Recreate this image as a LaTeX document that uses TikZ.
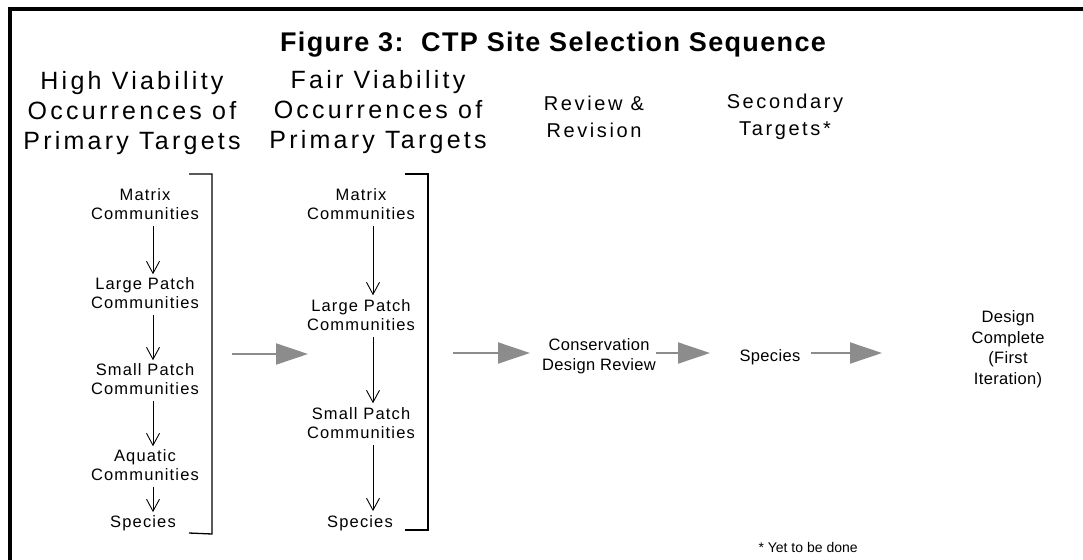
\documentclass[tikz,border=0pt]{standalone}
\usepackage{fontspec}
\setmainfont{Liberation Sans}
\newfontfamily\wide[LetterSpace=13]{Liberation Sans}
\newfontfamily\semiwide[LetterSpace=7]{Liberation Sans}
\newfontfamily\slightwide[LetterSpace=2]{Liberation Sans}
\newfontfamily\titlefont[LetterSpace=5]{Liberation Sans}
\usetikzlibrary{arrows.meta}
\definecolor{flowgray}{RGB}{140,140,140}
\begin{document}
\begin{tikzpicture}[x=1pt,y=-1pt,
    bighead/.style={align=center,inner sep=0pt,font=\wide\fontsize{25}{30}\selectfont},
    head/.style={align=center,inner sep=0pt,font=\wide\fontsize{20}{27}\selectfont},
    item/.style={align=center,inner sep=0pt,font=\semiwide\fontsize{16.5}{19}\selectfont},
    plain/.style={align=center,inner sep=0pt,font=\slightwide\fontsize{16.5}{20.5}\selectfont},
    down/.style={-{Straight Barb[length=12pt,width=13pt]},line width=0.9pt},
    push/.style={draw=flowgray,line width=2pt,-{Triangle[length=32pt,width=21pt,fill=flowgray]}},
    brk/.style={line width=1.3pt}]
  \useasboundingbox (0,0) rectangle (1083,559);
  % frame
  \draw[line width=4pt] (10,570) -- (10,9) -- (1090,9);
  \node[font=\titlefont\bfseries\fontsize{27}{32}\selectfont] (title) at (553,45) {Figure 3:\ \ CTP Site Selection Sequence};
  % column heads
  \node[bighead] (h1) at (132,113) {High Viability\\Occurrences of\\Primary Targets};
  \node[bighead] (h2) at (378,112) {Fair Viability\\Occurrences of\\Primary Targets};
  \node[head] (h3) at (594,117) {Review \&\\Revision};
  \node[head] (h4) at (785,117) {Secondary\\Targets*};
  % first column
  \node[item] (m1) at (145,204) {Matrix\\Communities};
  \node[item] (l1) at (145,293) {Large Patch\\Communities};
  \node[item] (s1) at (145,379) {Small Patch\\Communities};
  \node[item] (a1) at (145,465) {Aquatic\\Communities};
  \node[item] (p1) at (143,523) {Species};
  \coordinate (x1) at (153,0);
  \draw[down] ([yshift=-6pt]m1.south -| x1) -- ([yshift=3pt]l1.north -| x1);
  \draw[down] ([yshift=-6pt]l1.south -| x1) -- ([yshift=3pt]s1.north -| x1);
  \draw[down] ([yshift=-6pt]s1.south -| x1) -- ([yshift=3pt]a1.north -| x1);
  \draw[down] ([yshift=-6pt]a1.south -| x1) -- ([yshift=3pt]p1.north -| x1);
  \draw[brk] (189,174) -- (212,174) -- (212,534) -- (189,533);
  % second column
  \node[item] (m2) at (361,204) {Matrix\\Communities};
  \node[item] (l2) at (361,315) {Large Patch\\Communities};
  \node[item] (s2) at (361,423) {Small Patch\\Communities};
  \node[item] (p2) at (360,523) {Species};
  \coordinate (x2) at (373,0);
  \draw[down] ([yshift=-6pt]m2.south -| x2) -- ([yshift=4pt]l2.north -| x2);
  \draw[down] ([yshift=-6pt]l2.south -| x2) -- ([yshift=4pt]s2.north -| x2);
  \draw[down] ([yshift=-6pt]s2.south -| x2) -- ([yshift=4pt]p2.north -| x2);
  \draw[brk] (405,174) -- (428,174) -- (428,530) -- (405,530);
  % review, secondary, done
  \node[plain,anchor=west] (cdr) at (542,356) {Conservation\\Design Review};
  \node[plain] (sp) at (770,357) {Species};
  \node[plain] (dc) at (1008,349) {Design\\Complete\\(First\\Iteration)};
  \coordinate (g1) at (232,354);
  \coordinate (g1e) at (308,354);
  \coordinate (g2) at (453,353);
  \coordinate (g2e) at (530,353);
  \coordinate (g3e) at (710,353);
  \coordinate (g4e) at (882,353);
  \draw[push] (g1) -- (g1e);
  \draw[push] (g2) -- (g2e);
  \draw[push] (cdr.east |- g3e) -- (g3e);
  \draw[push] ([xshift=10pt]sp.east |- g4e) -- (g4e);
  \node[font=\fontsize{14}{17}\selectfont,anchor=west] (note) at (755,547) {* Yet to be done};
\end{tikzpicture}
\end{document}
